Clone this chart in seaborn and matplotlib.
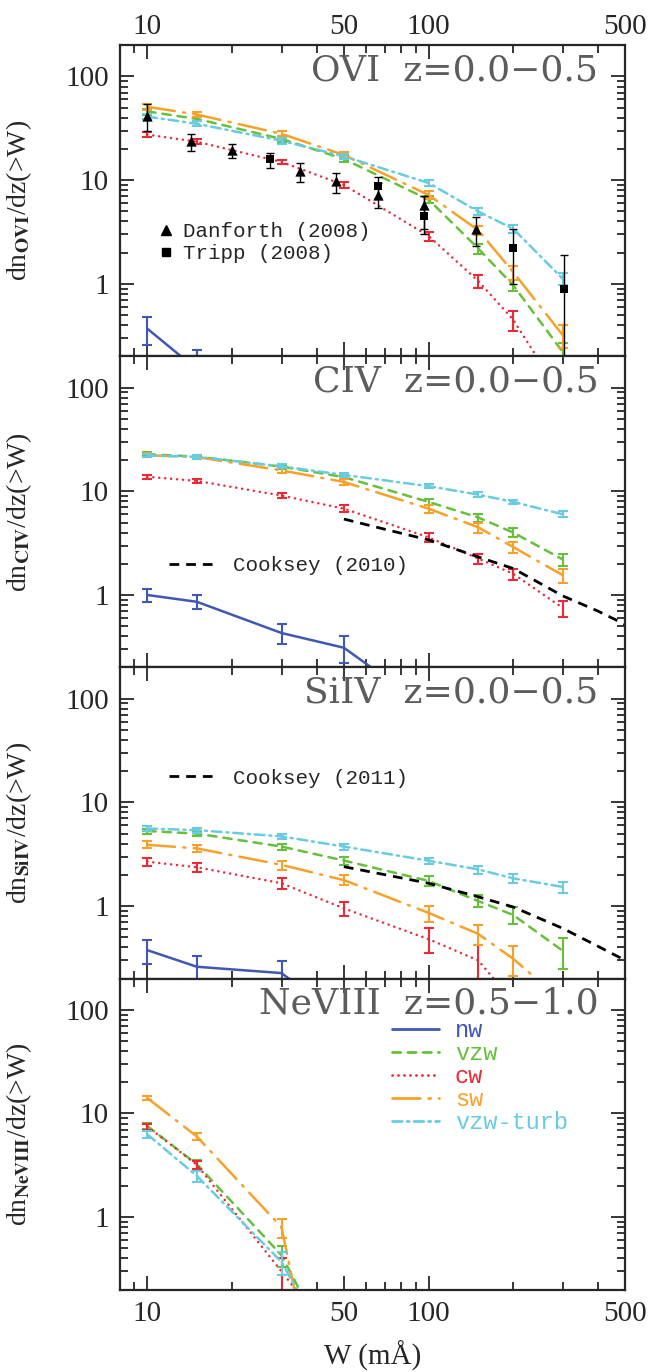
import matplotlib
matplotlib.use("Agg")
import matplotlib.pyplot as plt
from matplotlib.lines import Line2D
from matplotlib.ticker import FixedLocator, LogLocator, NullFormatter, FormatStrFormatter
import seaborn as sns

# equivalent width bins (mA)
W = [10, 15, 30, 50, 100, 150, 200, 300]

# OVI z=0.0-0.5
ovi_nw = [0.37, 0.15]
ovi_nw_err = [0.11, 0.08]
ovi_vzw = [46, 39, 25, 16, 6.5, 2.2, 0.97, 0.22]
ovi_vzw_err = [3, 2, 1.5, 1, 0.5, 0.25, 0.12, 0.05]
ovi_cw = [27.5, 23.5, 15, 9.0, 2.9, 1.07, 0.45, 0.08]
ovi_cw_err = [1.5, 1.2, 0.8, 0.6, 0.3, 0.15, 0.1, 0.03]
ovi_sw = [51, 43, 28, 17.5, 7.2, 3.3, 1.3, 0.32]
ovi_sw_err = [3, 2, 1.5, 1.2, 0.6, 0.35, 0.2, 0.08]
ovi_turb = [41, 35, 24, 17, 9.4, 5.0, 3.4, 1.12]
ovi_turb_err = [2.5, 2, 1.5, 1, 0.6, 0.4, 0.3, 0.15]

danforth_w = [10, 14.3, 20, 35, 47, 66, 96, 148]
danforth_dn = [41.7, 24, 19.5, 12.3, 9.8, 7.2, 5.8, 3.4]
danforth_lo = [12, 5, 3, 2.7, 2.2, 1.8, 2.4, 1.1]
danforth_hi = [12, 4, 3, 2.5, 2.0, 2.1, 1.2, 1.0]
tripp_w = [27.3, 66, 96, 200, 302]
tripp_dn = [16, 8.8, 4.5, 2.2, 0.9]
tripp_lo = [3, 2, 1.5, 1.2, 0.85]
tripp_hi = [2.3, 2, 2.5, 1.2, 1.0]

# CIV z=0.0-0.5
civ_nw = [1.0, 0.86, 0.43, 0.31, 0.08]
civ_nw_err = [0.14, 0.13, 0.09, 0.09, 0.03]
civ_vzw = [22.8, 21.6, 17.3, 13.7, 7.9, 5.6, 4.0, 2.2]
civ_vzw_err = [1, 0.9, 0.8, 0.7, 0.6, 0.5, 0.4, 0.3]
civ_cw = [13.8, 12.6, 9.1, 6.8, 3.6, 2.25, 1.6, 0.75]
civ_cw_err = [0.7, 0.6, 0.5, 0.5, 0.35, 0.25, 0.2, 0.13]
civ_sw = [22.2, 21.4, 15.9, 12.3, 6.8, 4.5, 2.9, 1.55]
civ_sw_err = [1, 0.9, 0.8, 0.7, 0.6, 0.5, 0.35, 0.25]
civ_turb = [22.2, 21.5, 17.4, 14.4, 11.2, 9.3, 7.9, 6.0]
civ_turb_err = [0.9, 0.8, 0.8, 0.7, 0.5, 0.5, 0.4, 0.4]
cooksey10_w = [50, 70, 100, 150, 200, 300, 400, 500]
cooksey10_dn = [5.4, 4.3, 3.4, 2.33, 1.8, 0.98, 0.7, 0.52]

# SiIV z=0.0-0.5
siv_nw = [0.376, 0.26, 0.226, 0.08]
siv_nw_err = [0.1, 0.07, 0.07, 0.03]
siv_vzw = [5.3, 5.0, 3.75, 2.75, 1.75, 1.12, 0.82, 0.37]
siv_vzw_err = [0.3, 0.3, 0.25, 0.25, 0.2, 0.15, 0.15, 0.12]
siv_cw = [2.68, 2.37, 1.66, 0.95, 0.48, 0.3, 0.12, 0.03]
siv_cw_err = [0.25, 0.25, 0.2, 0.15, 0.13, 0.12, 0.06, 0.02]
siv_sw = [3.9, 3.6, 2.5, 1.78, 0.86, 0.54, 0.31, 0.12]
siv_sw_err = [0.3, 0.3, 0.25, 0.2, 0.15, 0.12, 0.1, 0.05]
siv_turb = [5.6, 5.4, 4.7, 3.75, 2.74, 2.26, 1.85, 1.53]
siv_turb_err = [0.3, 0.3, 0.3, 0.25, 0.2, 0.2, 0.18, 0.18]
cooksey11_w = [50, 100, 150, 200, 300, 400, 500]
cooksey11_dn = [2.4, 1.66, 1.23, 0.98, 0.61, 0.41, 0.30]

# NeVIII z=0.5-1.0
ne_vzw = [7.55, 3.24, 0.43, 0.03]
ne_vzw_err = [0.5, 0.3, 0.1, 0.01]
ne_cw = [7.5, 3.2, 0.3, 0.05]
ne_cw_err = [0.5, 0.3, 0.1, 0.01]
ne_sw = [14.1, 6.0, 0.8, 0.001]
ne_sw_err = [0.6, 0.5, 0.17, 0.0]
ne_turb = [6.3, 2.5, 0.37, 0.03]
ne_turb_err = [0.5, 0.3, 0.09, 0.01]

models = ["nw", "vzw", "cw", "sw", "vzw-turb"]
colors = {"nw": "#4058b4", "vzw": "#66c03c", "cw": "#ec2a36",
          "sw": "#f8a12a", "vzw-turb": "#68cbe0"}
styles = {"nw": "-", "vzw": (0, (6, 5)), "cw": (0, (0.1, 4.2)),
          "sw": (0, (20, 6, 1.5, 6)), "vzw-turb": (0, (7, 3.5, 1.5, 3.5))}

sns.set_style("ticks")
plt.rcParams["font.family"] = ["Liberation Serif", "DejaVu Serif"]
plt.rcParams["mathtext.fontset"] = "stix"
plt.rcParams["lines.scale_dashes"] = False
plt.rcParams["axes.linewidth"] = 1.6

MONO = ["Liberation Mono", "DejaVu Sans Mono"]


def draw_model(ax, name, vals, err):
    x = W[:len(vals)]
    c = colors[name]
    sns.lineplot(x=x, y=vals, ax=ax, color=c, linewidth=1.8, linestyle=styles[name],
                 dash_capstyle="round", errorbar=None, sort=False)
    ax.errorbar(x, vals, yerr=err, fmt="none", ecolor=c, elinewidth=1.5,
                capsize=3.5, capthick=1.5)


def style_axis(ax, title, ion):
    ax.set_xscale("log")
    ax.set_yscale("log")
    ax.set_xlim(8, 500)
    ax.set_ylim(0.2, 200)
    ax.xaxis.set_major_locator(FixedLocator([10, 50, 100, 500]))
    ax.xaxis.set_major_formatter(FormatStrFormatter("%g"))
    ax.xaxis.set_minor_locator(LogLocator(base=10, subs=range(1, 10)))
    ax.xaxis.set_minor_formatter(NullFormatter())
    ax.yaxis.set_major_locator(FixedLocator([1, 10, 100]))
    ax.yaxis.set_major_formatter(FormatStrFormatter("%g"))
    ax.yaxis.set_minor_locator(LogLocator(base=10, subs=range(2, 10)))
    ax.yaxis.set_minor_formatter(NullFormatter())
    ax.tick_params(which="both", direction="in", top=True, right=True,
                   labelsize=21, width=1.3, pad=8)
    ax.tick_params(which="major", length=10)
    ax.tick_params(which="minor", length=5.5)
    for sp in ax.spines.values():
        sp.set_visible(True)
        sp.set_linewidth(1.6)
    ax.text(0.947, 0.975, title, transform=ax.transAxes, ha="right", va="top",
            fontsize=26, color="#5c5c5c", family="DejaVu Serif")
    ax.set_ylabel(r"dn$_{\mathbf{%s}}$/dz(>W)" % ion, fontsize=20)
    ax.yaxis.set_label_coords(-0.17, 0.5)
    ax.set_xlabel("")


fig = plt.figure(figsize=(6.56, 13.72), dpi=100)
axes = fig.subplots(4, 1, sharex=True)
fig.subplots_adjust(left=0.183, right=0.953, top=0.967, bottom=0.06, hspace=0)

# --- OVI ---
ax = axes[0]
style_axis(ax, "OVI  z=0.0\u22120.5", "OVI")
draw_model(ax, "nw", ovi_nw, ovi_nw_err)
draw_model(ax, "vzw", ovi_vzw, ovi_vzw_err)
draw_model(ax, "cw", ovi_cw, ovi_cw_err)
draw_model(ax, "sw", ovi_sw, ovi_sw_err)
draw_model(ax, "vzw-turb", ovi_turb, ovi_turb_err)
ax.errorbar(danforth_w, danforth_dn, yerr=[danforth_lo, danforth_hi], fmt="none",
            ecolor="black", elinewidth=1.0, capsize=3, capthick=1.0)
ax.errorbar(tripp_w, tripp_dn, yerr=[tripp_lo, tripp_hi], fmt="none",
            ecolor="black", elinewidth=1.0, capsize=3, capthick=1.0)
sns.scatterplot(x=danforth_w, y=danforth_dn, ax=ax, marker="^", color="black",
                s=55, edgecolor="black", linewidth=0, zorder=5)
sns.scatterplot(x=tripp_w, y=tripp_dn, ax=ax, marker="s", color="black",
                s=40, edgecolor="black", linewidth=0, zorder=5)
obs_handles = [Line2D([], [], marker="^", color="black", ls="none", markersize=7),
               Line2D([], [], marker="s", color="black", ls="none", markersize=6)]
ax.legend(obs_handles, ["Danforth (2008)", "Tripp (2008)"], loc="center left",
          bbox_to_anchor=(0.062, 0.366), frameon=False, handlelength=0.6,
          handletextpad=0.5, labelspacing=0.15, borderaxespad=0,
          prop={"family": MONO, "size": 15})
ax.tick_params(labeltop=True, labelbottom=False)
ax.tick_params(axis="x", pad=4)

# --- CIV ---
ax = axes[1]
style_axis(ax, "CIV  z=0.0\u22120.5", "CIV")
draw_model(ax, "nw", civ_nw, civ_nw_err)
draw_model(ax, "vzw", civ_vzw, civ_vzw_err)
draw_model(ax, "cw", civ_cw, civ_cw_err)
draw_model(ax, "sw", civ_sw, civ_sw_err)
draw_model(ax, "vzw-turb", civ_turb, civ_turb_err)
sns.lineplot(x=cooksey10_w, y=cooksey10_dn, ax=ax, color="black", linewidth=2,
             linestyle=(0, (7, 5)), errorbar=None, sort=False)
ax.legend([Line2D([], [], color="black", lw=2, ls=(0, (7, 5)))], ["Cooksey (2010)"],
          loc="center left", bbox_to_anchor=(0.08, 0.327), frameon=False,
          handlelength=2.1, handletextpad=1.0, borderaxespad=0,
          prop={"family": MONO, "size": 15})
ax.tick_params(labelbottom=False)

# --- SiIV ---
ax = axes[2]
style_axis(ax, "SiIV  z=0.0\u22120.5", "SiIV")
draw_model(ax, "nw", siv_nw, siv_nw_err)
draw_model(ax, "vzw", siv_vzw, siv_vzw_err)
draw_model(ax, "cw", siv_cw, siv_cw_err)
draw_model(ax, "sw", siv_sw, siv_sw_err)
draw_model(ax, "vzw-turb", siv_turb, siv_turb_err)
sns.lineplot(x=cooksey11_w, y=cooksey11_dn, ax=ax, color="black", linewidth=2,
             linestyle=(0, (7, 5)), errorbar=None, sort=False)
ax.legend([Line2D([], [], color="black", lw=2, ls=(0, (7, 5)))], ["Cooksey (2011)"],
          loc="center left", bbox_to_anchor=(0.08, 0.644), frameon=False,
          handlelength=2.1, handletextpad=1.0, borderaxespad=0,
          prop={"family": MONO, "size": 15})
ax.tick_params(labelbottom=False)

# --- NeVIII ---
ax = axes[3]
style_axis(ax, "NeVIII  z=0.5\u22121.0", "NeVIII")
draw_model(ax, "vzw", ne_vzw, ne_vzw_err)
draw_model(ax, "cw", ne_cw, ne_cw_err)
draw_model(ax, "sw", ne_sw, ne_sw_err)
draw_model(ax, "vzw-turb", ne_turb, ne_turb_err)
handles = [Line2D([], [], color=colors[m], lw=2, ls=styles[m], dash_capstyle="round")
           for m in models]
ax.legend(handles, models, loc="center left", bbox_to_anchor=(0.52, 0.685),
          frameon=False, handlelength=2.0, handletextpad=0.65, labelspacing=0.0,
          borderaxespad=0, labelcolor="linecolor",
          prop={"family": MONO, "size": 17})
ax.set_xlabel("W (m\u00c5)", fontsize=21, labelpad=10)

fig.savefig("out.png", dpi=100)
